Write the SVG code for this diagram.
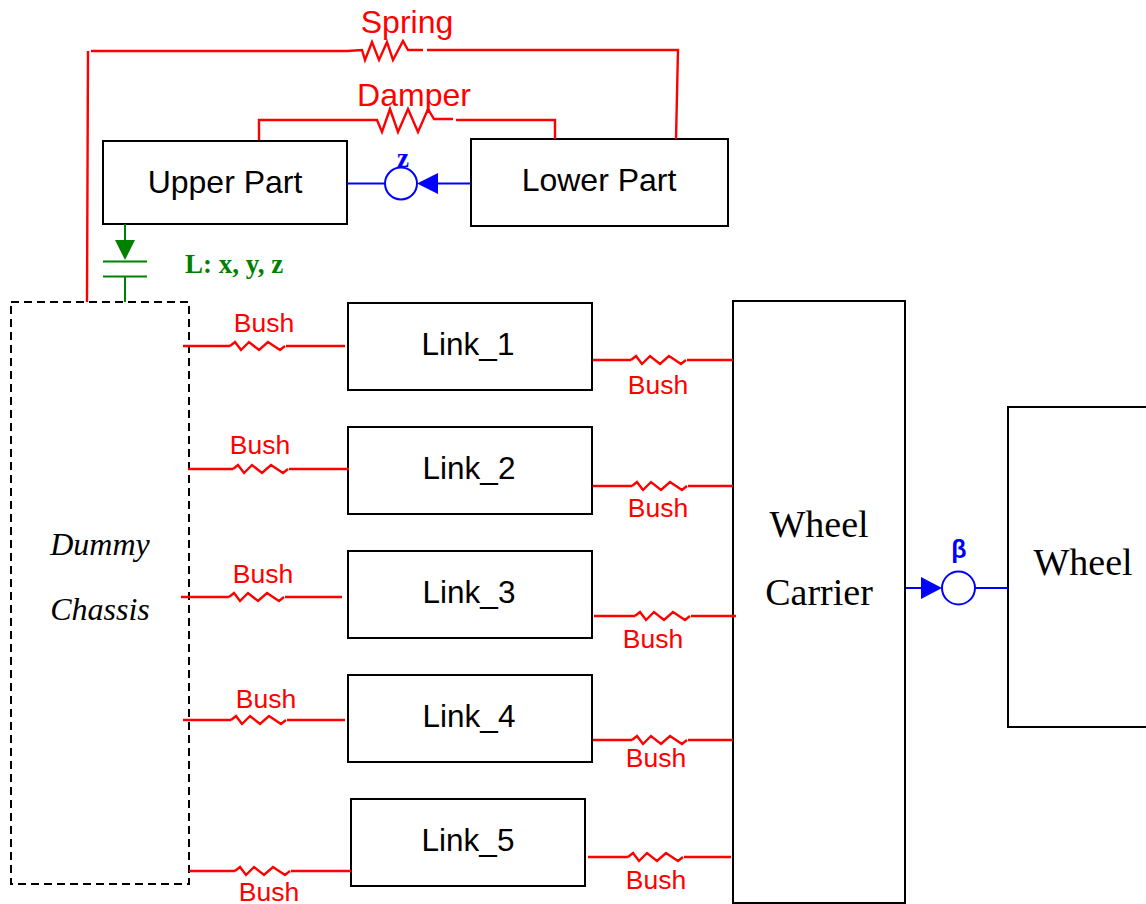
<svg xmlns="http://www.w3.org/2000/svg" width="1146" height="904" viewBox="0 0 1146 904">
<style>
.b{fill:#fff;stroke:#000;stroke-width:2}
.t{font-family:"Liberation Sans",Arial,sans-serif;font-size:32px;fill:#000;text-anchor:middle}
.l{font-family:"Liberation Sans",Arial,sans-serif;font-size:31.500px;fill:#000;text-anchor:middle}
.s{font-family:"Liberation Serif","Times New Roman",serif;font-size:38px;fill:#000;text-anchor:middle}
.i{font-family:"Liberation Serif","Times New Roman",serif;font-size:32px;font-style:italic;fill:#000;text-anchor:middle}
.r{font-family:"Liberation Sans",Arial,sans-serif;font-size:26.500px;fill:#f00;text-anchor:middle}
.rl{font-family:"Liberation Sans",Arial,sans-serif;font-size:32px;fill:#f00;text-anchor:middle}
.w{fill:none;stroke:#f00;stroke-width:2.400}
.bl{fill:none;stroke:#00f;stroke-width:2}
.g{fill:none;stroke:#008000;stroke-width:2}
</style>
<defs>
<path id="z" d="M0 0l5 -4l6 8l8 -8l10 8l9 -8l12 8l5 -4" class="w"/>
</defs>
<g id="wheel"><rect class="b" x="1008" y="407" width="150" height="320"/><text class="s" x="1083" y="575">Wheel</text></g>
<g id="carrier"><rect class="b" x="733" y="301" width="172" height="602"/><text class="s" x="819" y="537">Wheel</text><text class="s" x="819" y="605">Carrier</text></g>
<g id="upper"><rect class="b" x="103" y="141" width="244" height="83"/><text class="t" x="225" y="193">Upper Part</text></g>
<g id="lower"><rect class="b" x="471" y="139" width="257" height="87"/><text class="t" x="599" y="191">Lower Part</text></g>
<g id="link1"><rect class="b" x="348" y="303" width="244" height="87"/><text class="l" x="468" y="355">Link_1</text></g>
<g id="link2"><rect class="b" x="348" y="427" width="244" height="87"/><text class="l" x="469" y="479">Link_2</text></g>
<g id="link3"><rect class="b" x="348" y="551" width="244" height="87"/><text class="l" x="469" y="603">Link_3</text></g>
<g id="link4"><rect class="b" x="348" y="675" width="244" height="87"/><text class="l" x="469" y="727">Link_4</text></g>
<g id="link5"><rect class="b" x="351" y="799" width="234" height="87"/><text class="l" x="468" y="851">Link_5</text></g>
<g id="chassis"><rect x="11" y="302" width="178" height="582" fill="none" stroke="#000" stroke-width="2" stroke-dasharray="8 5"/><text class="i" x="100" y="555">Dummy</text><text class="i" x="100" y="620">Chassis</text></g>
<g id="connectors">
<path class="w" d="M87 302L88 51M91 51H347L362 50L365 60L372 42L379 60L387 42L393 60L403 41L408 50H423M427 50H678L676 139"/>
<path class="w" d="M259 140V120H377L382 132L390 109L398 132L408 109L418 132L428 109L434 119H453M456 120H555V139"/>
<path class="w" d="M183 346H230M286 346H345M188 469H233M289 469H349M181 597H229M285 597H342M183 720H231M287 720H345M189 871H235M291 871H351"/>
<path class="w" d="M593 360H631M687 360H733M593 486H632M688 486H733M594 616H635M691 616H736M593 740H632M688 740H733M588 857H628M684 857H731"/>
<use href="#z" x="230" y="346"/><use href="#z" x="233" y="469"/><use href="#z" x="229" y="597"/><use href="#z" x="231" y="720"/><use href="#z" x="235" y="871"/>
<use href="#z" x="631" y="360"/><use href="#z" x="632" y="486"/><use href="#z" x="635" y="616"/><use href="#z" x="632" y="740"/><use href="#z" x="628" y="857"/>
<path class="bl" d="M347 183.500H385M438 183.500H471"/><circle class="bl" cx="401" cy="183.500" r="16" stroke-width="2.400"/><path d="M417 183.500L438 173V194Z" fill="#00f"/>
<path class="bl" d="M906 588H921M975 588H1008"/><circle class="bl" cx="958.500" cy="588" r="16.500" stroke-width="2.400"/><path d="M942 588L921 577V599Z" fill="#00f"/>
<path class="g" d="M125 224V242M103 261.500H147M103 276.500H147M125 276.500V302"/><path d="M125 260L115 240H135Z" fill="#008000"/>
</g>
<g id="labels">
<text class="rl" x="407" y="33">Spring</text>
<text class="rl" x="414" y="106">Damper</text>
<text x="403" y="167" font-family="Liberation Serif,serif" font-weight="bold" font-size="27" fill="#00f" text-anchor="middle">z</text>
<text x="959" y="558" font-family="Liberation Sans,sans-serif" font-weight="bold" font-size="25" fill="#00f" text-anchor="middle">β</text>
<text x="185" y="273" font-family="Liberation Serif,serif" font-weight="bold" font-size="27" fill="#008000">L: x, y, z</text>
<text class="r" x="264" y="332">Bush</text><text class="r" x="260" y="454">Bush</text><text class="r" x="263" y="583">Bush</text><text class="r" x="266" y="708">Bush</text><text class="r" x="269" y="901">Bush</text>
<text class="r" x="658" y="394">Bush</text><text class="r" x="658" y="517">Bush</text><text class="r" x="653" y="648">Bush</text><text class="r" x="656" y="767">Bush</text><text class="r" x="656" y="889">Bush</text>
</g>
</svg>
